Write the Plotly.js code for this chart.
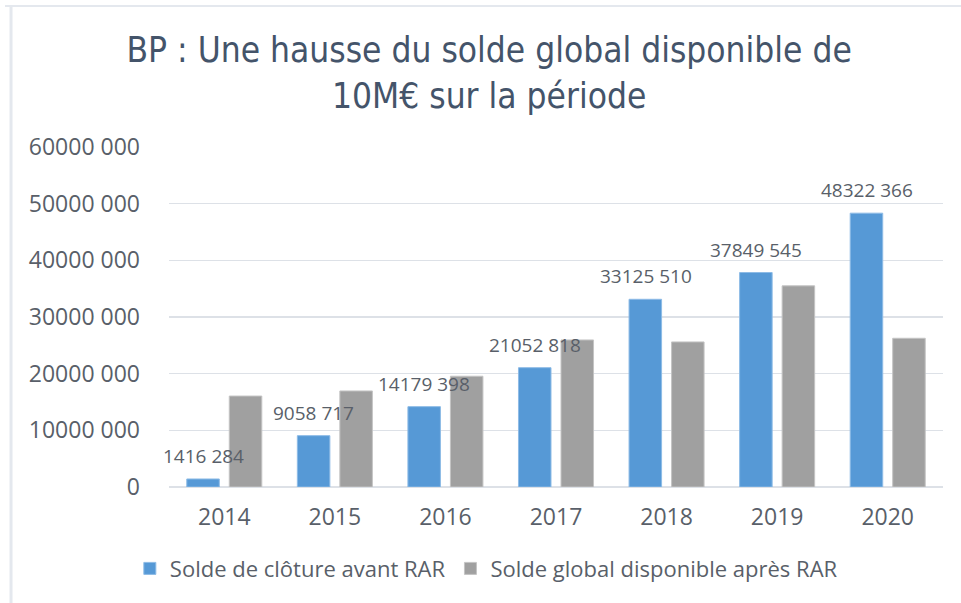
<!DOCTYPE html>
<html>
<head>
<meta charset="utf-8">
<script src="https://cdn.plot.ly/plotly-3.0.1.min.js"></script>
<style>
html,body{margin:0;padding:0;background:#fff;}
#chart{width:961px;height:603px;}
</style>
</head>
<body>
<div id="chart"></div>
<script>
// ---- data ----
const years = ["2014", "2015", "2016", "2017", "2018", "2019", "2020"];
const soldeCloture = [1416284, 9058717, 14179398, 21052818, 33125510, 37849545, 48322366];
const soldeGlobal = [16050000, 16950000, 19550000, 25950000, 25600000, 35500000, 26250000];
const seriesNames = ["Solde de clôture avant RAR", "Solde global disponible après RAR"];
const yTickVals = [0, 10000000, 20000000, 30000000, 40000000, 50000000, 60000000];
const yTickText = ["0", "10000 000", "20000 000", "30000 000", "40000 000", "50000 000", "60000 000"];
const titleText = "BP : Une hausse du solde global disponible de<br>10M€ sur la période";

function fmt(v) {
  const s = String(Math.round(v));
  return s.length > 3 ? s.slice(0, s.length - 3) + " " + s.slice(-3) : s;
}

const textColor = "#595f69";
const font = "Open Sans, Noto Sans, DejaVu Sans, sans-serif";

const traces = [
  {
    type: "bar", name: seriesNames[0], x: years, y: soldeCloture,
    marker: { color: "#5699d6", line: { color: "#8dbbe6", width: 1 } },
    hoverinfo: "none"
  },
  {
    type: "bar", name: seriesNames[1], x: years, y: soldeGlobal,
    marker: { color: "#a0a0a0", line: { color: "#c4c4c4", width: 1 } },
    hoverinfo: "none"
  }
];

const annotations = years.map((yr, i) => ({
  x: i, y: soldeCloture[i], xref: "x", yref: "y",
  text: fmt(soldeCloture[i]), showarrow: false,
  xanchor: "center", yanchor: "bottom", xshift: -21, yshift: 8,
  font: { family: font, size: 19, color: textColor }
}));

const layout = {
  width: 961, height: 603,
  margin: { l: 169, r: 18, t: 147, b: 116, autoexpand: false },
  paper_bgcolor: "#ffffff", plot_bgcolor: "#ffffff",
  barmode: "group", bargap: 0.231, bargroupgap: 0.235,
  title: {
    text: titleText,
    font: { family: "Liberation Sans Narrow, DejaVu Sans Condensed, Open Sans, sans-serif", size: 35, color: "#44546a" },
    x: 0.509, xanchor: "center", xref: "container",
    y: 0.897, yanchor: "top", yref: "container"
  },
  xaxis: {
    type: "category", range: [-0.5, years.length - 0.5],
    showgrid: false, zeroline: false, showline: false,
    ticks: "", ticklabelstandoff: 14,
    tickfont: { family: font, size: 23, color: textColor }
  },
  yaxis: {
    range: [0, 60000000], tickmode: "array", tickvals: yTickVals, ticktext: yTickText,
    showgrid: true, gridcolor: "#dde1e7", gridwidth: 1.5,
    zeroline: true, zerolinecolor: "#dde1e7", zerolinewidth: 1.5,
    showline: false, ticks: "", ticklabelstandoff: 28,
    tickfont: { family: font, size: 23, color: textColor }
  },
  showlegend: true,
  legend: {
    orientation: "h", x: 0.41, xanchor: "center",
    y: -0.24, yanchor: "middle",
    font: { family: font, size: 22, color: textColor }
  },
  annotations: annotations,
  shapes: [
    { type: "line", xref: "paper", yref: "paper", x0: -0.2119, x1: 1.03, y0: 1.4147, y1: 1.4147,
      line: { color: "#e4e8ee", width: 2 } },
    { type: "line", xref: "paper", yref: "paper", x0: -0.2041, x1: -0.2041, y0: 1.4176, y1: -0.35,
      line: { color: "#e4e8ee", width: 3 } }
  ]
};

Plotly.newPlot("chart", traces, layout, { displayModeBar: false, staticPlot: true });
</script>
</body>
</html>
